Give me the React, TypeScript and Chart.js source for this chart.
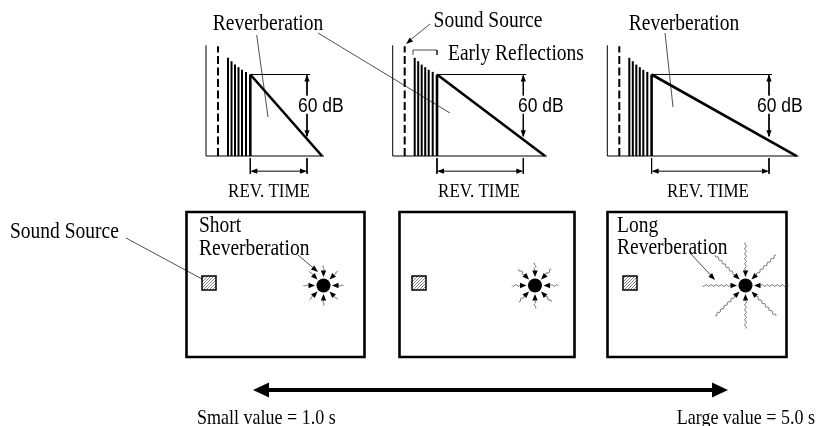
import React, { useEffect, useRef } from "react";
import { Chart, registerables } from "chart.js";

Chart.register(...registerables);

// ---------------- values ----------------
// Impulse-response sketch: time units after the level axis, levels in dB relative to reverb onset
const directSoundTime = 12;
const directSoundLevel = 27;
const axisTopLevel = 28;
const floorLevel = -78;
const reflectionTimes = [22, 25.5, 29, 32.5, 36, 40, 44.3];
const reflectionLevels = [16, 12.7, 9.5, 7, 4.5, 2.5, 0];
const decayRangeDb = 60;
const decayEndTimes = [116, 152.3, 189.4];
const revTimeMarks = [101, 130.6, 161.7];
// room sketches: reach of the reverberation rays
const reverbRayReach = [20, 23, 43];
// texts
const panelTopLabels = ["Reverberation", "Sound Source", "Reverberation"];
const earlyLabel = "Early Reflections";
const dbLabel = "60 dB";
const revTimeLabel = "REV. TIME";
const sourceLabel = "Sound Source";
const roomLabels = [["Short", "Reverberation"], [], ["Long", "Reverberation"]];
const rangeLabels = ["Small value = 1.0 s", "Large value = 5.0 s"];

// ---------------- layout (positions / styles) ----------------
const W = 822;
const H = 426;
const PANEL_ORIGIN_X = [206, 392.7, 607.3];
const ONSET_Y = 74.5;
const DB_PX = 1.045;
const DIM_TICK = [-80, -95];
const DIM_LINE = -92.5;
const ROOM_X = [
  [186.5, 364.5],
  [399.5, 574.5],
  [607.5, 786.5],
];
const ROOM_Y = [212, 357];
const SOURCE_X = [209, 419, 630];
const SOURCE_Y = 283;
const SOURCE_SIZE = 14;
const SUN_X = [323.5, 535, 745.5];
const SUN_Y = 285.5;
const SUN_R = 7;
const SERIF = '"Liberation Serif", "Times New Roman", serif';
const SANS = '"Liberation Sans", Arial, sans-serif';
const TEXT_SY = 1.13;

type Pt = [number, number];

function seg(points: Pt[], xAxisID: string, yAxisID: string, width: number, dash: number[] = [], color = "#000") {
  return {
    data: points.map(([x, y]) => ({ x, y })),
    xAxisID,
    yAxisID,
    showLine: true,
    borderColor: color,
    backgroundColor: color,
    borderWidth: width,
    borderDash: dash,
    pointRadius: 0,
    pointHoverRadius: 0,
    fill: false,
    tension: 0,
    borderCapStyle: "butt",
    borderJoinStyle: "miter",
  };
}

function buildDatasets() {
  const ds: any[] = [];
  const onset = reflectionTimes[reflectionTimes.length - 1];
  decayEndTimes.forEach((endT, i) => {
    const xa = `t${i}`;
    const ya = "lvl";
    const rt = revTimeMarks[i];
    ds.push(seg([[0, floorLevel], [0, axisTopLevel]], xa, ya, 1));
    ds.push(seg([[0, floorLevel], [endT + 2, floorLevel]], xa, ya, 1));
    ds.push(seg([[directSoundTime, floorLevel], [directSoundTime, directSoundLevel]], xa, ya, 2, [8, 3.5]));
    reflectionTimes.forEach((t, k) => {
      ds.push(seg([[t, floorLevel], [t, reflectionLevels[k]]], xa, ya, k === reflectionTimes.length - 1 ? 2.6 : 2));
    });
    ds.push(seg([[onset, 0], [endT, floorLevel]], xa, ya, 2.6));
    ds.push(seg([[onset, 0], [rt + 3, 0]], xa, ya, 1));
    ds.push(seg([[rt, -1], [rt, -decayRangeDb + 1]], xa, ya, 1));
    ds.push(seg([[onset, DIM_TICK[0]], [onset, DIM_TICK[1]]], xa, ya, 1));
    ds.push(seg([[rt, DIM_TICK[0]], [rt, DIM_TICK[1]]], xa, ya, 1));
    ds.push(seg([[onset + 2, DIM_LINE], [rt - 2, DIM_LINE]], xa, ya, 1));
  });
  // rooms
  ROOM_X.forEach(([l, r]) => {
    const [t, b] = ROOM_Y;
    ds.push(seg([[l, t], [r, t], [r, b], [l, b], [l, t], [r, t]], "x", "y", 2.6));
  });
  // leaders
  const thin = "#222";
  ds.push(seg([[256.7, 35], [268, 117]], "x", "y", 0.8, [], thin));
  ds.push(seg([[318, 33], [450, 113]], "x", "y", 0.8, [], thin));
  ds.push(seg([[430, 24], [409, 41]], "x", "y", 0.8, [], thin));
  ds.push(seg([[665, 33], [673, 107]], "x", "y", 0.8, [], thin));
  ds.push(seg([[413, 55], [413, 50], [437, 50], [437, 55]], "x", "y", 0.8, [], thin));
  ds.push(seg([[126, 238], [202, 279]], "x", "y", 0.8, [], thin));
  ds.push(seg([[298, 255], [314, 268.5]], "x", "y", 0.8, [], thin));
  ds.push(seg([[690, 253], [711, 275.5]], "x", "y", 0.8, [], thin));
  // bottom range arrow
  ds.push(seg([[262, 390], [719, 390]], "x", "y", 4));
  return ds;
}

function head(ctx: CanvasRenderingContext2D, fx: number, fy: number, tx: number, ty: number, len: number, half: number) {
  const a = Math.atan2(ty - fy, tx - fx);
  const c = Math.cos(a);
  const s = Math.sin(a);
  ctx.beginPath();
  ctx.moveTo(tx, ty);
  ctx.lineTo(tx - len * c + half * s, ty - len * s - half * c);
  ctx.lineTo(tx - len * c - half * s, ty - len * s + half * c);
  ctx.closePath();
  ctx.fill();
}

function text(ctx: CanvasRenderingContext2D, t: string, x: number, y: number, font: string, align: CanvasTextAlign = "left", bg = false) {
  ctx.save();
  ctx.font = font;
  ctx.textAlign = align;
  ctx.textBaseline = "alphabetic";
  ctx.translate(x, y);
  ctx.scale(1, TEXT_SY);
  if (bg) {
    const w = ctx.measureText(t).width;
    const x0 = align === "center" ? -w / 2 : align === "right" ? -w : 0;
    ctx.fillStyle = "#fff";
    ctx.fillRect(x0 - 1, -14, w + 2, 16);
  }
  ctx.fillStyle = "#000";
  ctx.fillText(t, 0, 0);
  ctx.restore();
}

function wavy(ctx: CanvasRenderingContext2D, x0: number, y0: number, x1: number, y1: number, amp: number, wl: number) {
  const L = Math.hypot(x1 - x0, y1 - y0);
  const ux = (x1 - x0) / L;
  const uy = (y1 - y0) / L;
  ctx.beginPath();
  for (let s = 0; s <= L; s += 0.5) {
    const o = amp * Math.sin((2 * Math.PI * s) / wl);
    const px = x0 + ux * s - uy * o;
    const py = y0 + uy * s + ux * o;
    if (s === 0) ctx.moveTo(px, py);
    else ctx.lineTo(px, py);
  }
  ctx.stroke();
}

const diagramPlugin = {
  id: "diagram",
  afterDatasetsDraw(chart: any) {
    const ctx: CanvasRenderingContext2D = chart.ctx;
    const sx = chart.scales.x;
    const sy = chart.scales.y;
    const lv = chart.scales.lvl;
    const X = (v: number) => sx.getPixelForValue(v);
    const Y = (v: number) => sy.getPixelForValue(v);
    ctx.save();
    ctx.fillStyle = "#000";
    const onset = reflectionTimes[reflectionTimes.length - 1];
    const serif = `19.5px ${SERIF}`;
    const dbX = [298, 518, 757];
    const revX = [269, 479, 708];
    decayEndTimes.forEach((_, i) => {
      const ts = chart.scales[`t${i}`];
      const rt = ts.getPixelForValue(revTimeMarks[i]);
      const top = lv.getPixelForValue(0);
      const bot = lv.getPixelForValue(-decayRangeDb);
      head(ctx, rt, top + 10, rt, top, 7, 2.6);
      head(ctx, rt, bot - 10, rt, bot, 7, 2.6);
      const dy = lv.getPixelForValue(DIM_LINE);
      const l = ts.getPixelForValue(onset);
      head(ctx, l + 10, dy, l, dy, 7, 2.6);
      head(ctx, rt - 10, dy, rt, dy, 7, 2.6);
      text(ctx, dbLabel, X(dbX[i]), Y(111.5), `17.5px ${SANS}`, "left", true);
      text(ctx, revTimeLabel, X(revX[i]), Y(196.5), `17px ${SERIF}`, "center");
    });
    // top labels
    text(ctx, panelTopLabels[0], X(268), Y(29.5), serif, "center");
    text(ctx, panelTopLabels[1], X(488), Y(27), serif, "center");
    text(ctx, panelTopLabels[2], X(684), Y(29.5), serif, "center");
    text(ctx, earlyLabel, X(448), Y(60), serif, "left");
    head(ctx, X(430), Y(24), X(406), Y(44), 7, 2.6);
    // left label
    text(ctx, sourceLabel, X(10), Y(238), serif, "left");
    // room labels
    text(ctx, roomLabels[0][0], X(199), Y(231.5), serif);
    text(ctx, roomLabels[0][1], X(199), Y(255), serif);
    text(ctx, roomLabels[2][0], X(617), Y(231.5), serif);
    text(ctx, roomLabels[2][1], X(617), Y(253.5), serif);
    head(ctx, X(298), Y(255), X(318), Y(272), 7, 2.6);
    head(ctx, X(690), Y(253), X(715), Y(280), 7, 2.6);
    // sources (hatched squares)
    SOURCE_X.forEach((cx) => {
      const x0 = X(cx - SOURCE_SIZE / 2);
      const y0 = Y(SOURCE_Y - SOURCE_SIZE / 2);
      const s = X(cx + SOURCE_SIZE / 2) - x0;
      ctx.save();
      ctx.beginPath();
      ctx.rect(x0, y0, s, s);
      ctx.clip();
      ctx.strokeStyle = "#666";
      ctx.lineWidth = 0.8;
      for (let k = -s; k < 2 * s; k += 3) {
        ctx.beginPath();
        ctx.moveTo(x0 + k, y0 + s);
        ctx.lineTo(x0 + k + s, y0);
        ctx.stroke();
      }
      ctx.restore();
      ctx.strokeStyle = "#000";
      ctx.lineWidth = 1.5;
      ctx.strokeRect(x0, y0, s, s);
    });
    // reverberation "suns"
    SUN_X.forEach((cxv, i) => {
      const cx = X(cxv);
      const cy = Y(SUN_Y);
      ctx.beginPath();
      ctx.arc(cx, cy, SUN_R, 0, Math.PI * 2);
      ctx.fill();
      const reach = reverbRayReach[i];
      for (let k = 0; k < 8; k++) {
        const a = (k * Math.PI) / 4;
        const c = Math.cos(a);
        const s = Math.sin(a);
        const tip = SUN_R + 1.5;
        const base = tip + 6;
        ctx.strokeStyle = "#444";
        ctx.lineWidth = 0.8;
        wavy(ctx, cx + c * reach, cy + s * reach, cx + c * base, cy + s * base, i === 0 ? 0.4 : 0.9, 5);
        head(ctx, cx + c * base, cy + s * base, cx + c * tip, cy + s * tip, 6.5, 2.7);
      }
    });
    // bottom arrow heads & labels
    head(ctx, X(280), Y(390), X(253), Y(390), 16, 7.5);
    head(ctx, X(700), Y(390), X(728), Y(390), 16, 7.5);
    text(ctx, rangeLabels[0], X(197), Y(424), `18px ${SERIF}`, "left");
    text(ctx, rangeLabels[1], X(815), Y(424), `18px ${SERIF}`, "right");
    ctx.restore();
  },
};

export default function App() {
  const ref = useRef<HTMLCanvasElement>(null);
  useEffect(() => {
    document.body.style.margin = "0";
    const canvas = ref.current;
    if (!canvas) return;
    const scales: any = {
      x: { type: "linear", position: "bottom", min: 0, max: W, display: false },
      y: { type: "linear", position: "left", min: 0, max: H, reverse: true, display: false },
      lvl: {
        type: "linear",
        axis: "y",
        position: "left",
        min: -(H - ONSET_Y) / DB_PX,
        max: ONSET_Y / DB_PX,
        display: false,
      },
    };
    PANEL_ORIGIN_X.forEach((ox, i) => {
      scales[`t${i}`] = { type: "linear", axis: "x", position: "bottom", min: -ox, max: W - ox, display: false };
    });
    const chart = new Chart(canvas, {
      type: "scatter",
      data: { datasets: buildDatasets() },
      options: {
        responsive: false,
        animation: false,
        devicePixelRatio: 1,
        events: [],
        layout: { padding: 0, autoPadding: false } as any,
        plugins: { legend: { display: false }, tooltip: { enabled: false } },
        scales,
      } as any,
      plugins: [diagramPlugin],
    });
    return () => chart.destroy();
  }, []);
  return (
    <div style={{ width: W, height: H, background: "#fff" }}>
      <canvas ref={ref} width={W} height={H} style={{ display: "block", width: W, height: H }} />
    </div>
  );
}
